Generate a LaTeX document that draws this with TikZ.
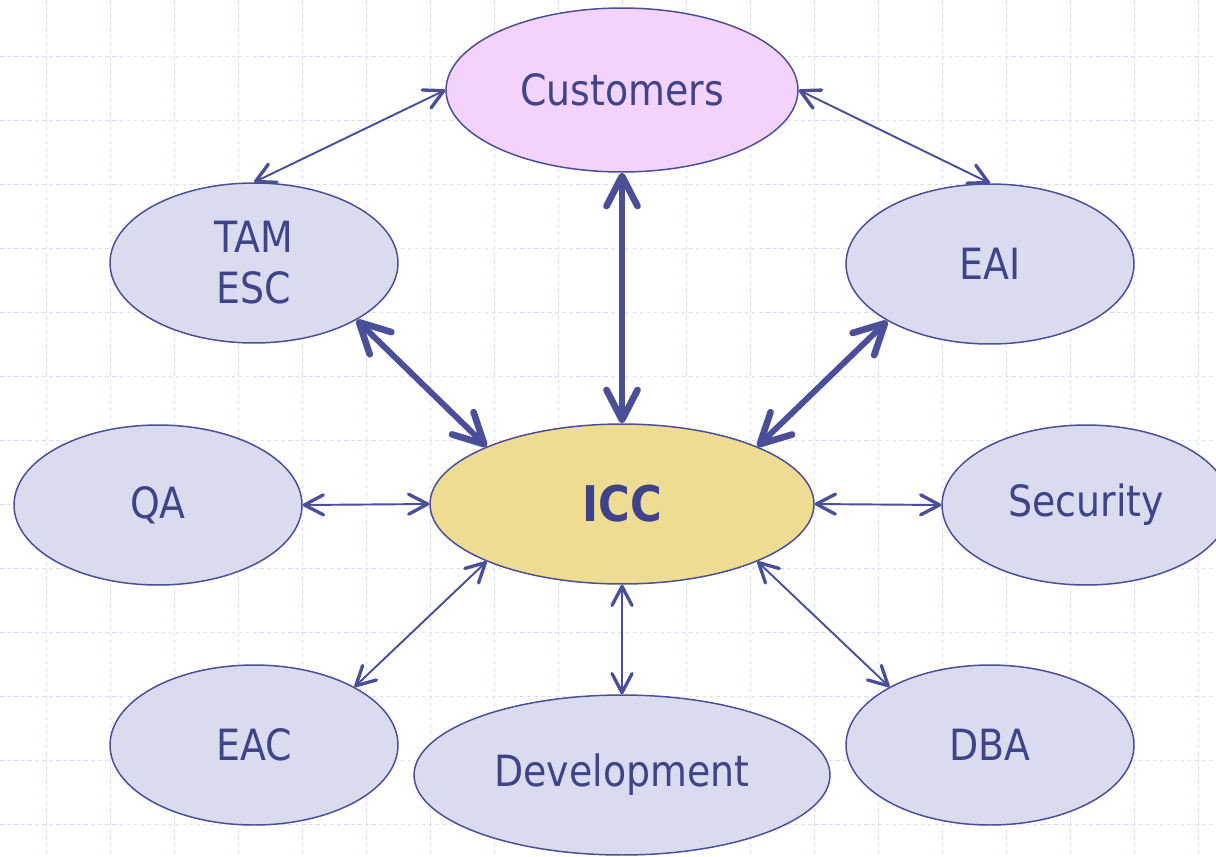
\documentclass[tikz,border=0pt]{standalone}
\usepackage{fontspec}
\setmainfont{DejaVu Sans}[FakeStretch=0.88]
\usetikzlibrary{shapes.geometric, arrows.meta}

\definecolor{linkblue}{HTML}{4A4F97}
\definecolor{textblue}{HTML}{3F4389}
\definecolor{rolefill}{HTML}{D9DCEE}
\definecolor{custpink}{HTML}{F3D2FB}
\definecolor{iccgold}{HTML}{EEDC92}
\definecolor{gridblue}{HTML}{D6DEF9}

\tikzset{
  gridline/.style={gridblue, line width=0.55pt, dash pattern=on 2pt off 2pt},
  role/.style={ellipse, draw=linkblue, line width=0.85pt, fill=rolefill, text=textblue,
    minimum width=5.76cm, minimum height=3.2cm, inner sep=0pt, align=center,
    font=\fontsize{24.5}{29}\selectfont},
  thinlink/.style={draw=linkblue, line width=1.1pt,
    >={Straight Barb[length=3.8mm, width=4mm, line width=1.9pt, round]}, <->},
  thicklink/.style={draw=linkblue, line width=3.4pt,
    >={Straight Barb[length=6mm, width=6.2mm, line width=3.8pt, round]}, <->}
}

\begin{document}
\begin{tikzpicture}[x=0.02cm, y=-0.02cm]

\useasboundingbox (0,0) rectangle (1216,856);
\clip (0,0) rectangle (1216,856);

%Grid
\foreach \gx in {46,110,...,1198} \draw[gridline] (\gx,0) -- (\gx,856);
\foreach \gy in {56,120,...,824} \draw[gridline] (0,\gy) -- (1216,\gy);

%Nodes
\node[role, fill=custpink, minimum width=7.04cm, minimum height=3.28cm] (cust) at (622,90) {Customers};
\node[role] (tam) at (254,263) {TAM\\ESC};
\node[role] (eai) at (990,264) {EAI};
\node[role] (qa) at (158,505) {QA};
\node[role, fill=iccgold, minimum width=7.68cm, font=\bfseries\fontsize{28}{32}\selectfont] (icc) at (622,504) {ICC};
\node[role] (sec) at (1086,505) {Security};
\node[role] (eac) at (254,745) {EAC};
\node[role, minimum width=8.32cm] (dev) at (622,775) {Development};
\node[role] (dba) at (990,745) {DBA};

%Thick links
\draw[thicklink] (cust.south) -- (icc.north);
\draw[thicklink] (tam.-29) -- (icc.157);
\draw[thicklink] (eai.209) -- (icc.23);

%Thin links
\draw[thinlink] (cust.west) -- (tam.north);
\draw[thinlink] (cust.east) -- (eai.north);
\draw[thinlink] (qa.east) -- (icc.west);
\draw[thinlink] (icc.east) -- (sec.west);
\draw[thinlink] (icc.203) -- (eac.30);
\draw[thinlink] (icc.south) -- (dev.north);
\draw[thinlink] (icc.-23) -- (dba.150);

\end{tikzpicture}
\end{document}
